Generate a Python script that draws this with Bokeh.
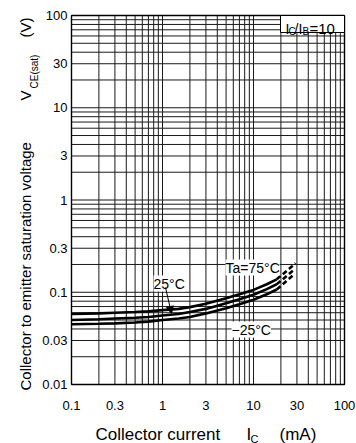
from bokeh.plotting import figure
from bokeh.models import Label, Arrow, NormalHead
from bokeh.core.properties import value
from bokeh.embed import file_html
from bokeh.resources import INLINE

# ---- data ----
ic = [0.1, 0.2, 0.3, 0.5, 0.7, 1, 1.5, 2, 3, 5, 7, 10, 14, 18]
v_75 = [0.058, 0.059, 0.060, 0.061, 0.062, 0.064, 0.066, 0.069, 0.075, 0.086, 0.095, 0.106, 0.122, 0.138]
v_25 = [0.050, 0.051, 0.052, 0.053, 0.054, 0.056, 0.058, 0.061, 0.066, 0.076, 0.084, 0.094, 0.108, 0.122]
v_m25 = [0.045, 0.0455, 0.046, 0.047, 0.048, 0.050, 0.052, 0.054, 0.059, 0.067, 0.074, 0.083, 0.095, 0.107]
ic_ext_75 = [18, 29]
v_ext_75 = [0.138, 0.206]
ic_ext_25 = [18, 28]
v_ext_25 = [0.122, 0.176]
ic_ext_m25 = [18, 27]
v_ext_m25 = [0.107, 0.152]

x_ticks = [0.1, 0.3, 1, 3, 10, 30, 100]
x_tick_labels = ["0.1", "0.3", "1", "3", "10", "30", "100"]
y_ticks = [0.01, 0.03, 0.1, 0.3, 1, 3, 10, 30, 100]
y_tick_labels = ["0.01", "0.03", "0.1", "0.3", "1", "3", "10", "30", "100"]
x_grid = [m * 10.0 ** e for e in (-1, 0, 1) for m in range(1, 10)] + [100]
y_grid = [m * 10.0 ** e for e in (-2, -1, 0, 1) for m in range(1, 10)] + [100]
X_MIN, X_MAX = 0.1, 100
Y_MIN, Y_MAX = 0.01, 100

FONT = "Liberation Sans"

# canvas and chart-frame geometry (pixels)
W, H = 356, 443
FL, FR, FT, FB = 71, 344, 15, 384
XDEC, YDEC = 3, 4


def px2x(px):
    return 10 ** (-1 + XDEC * (px - FL) / (FR - FL))


def py2y(py):
    return 10 ** (2 - YDEC * (py - FT) / (FB - FT))


p = figure(width=W, height=H, x_axis_type="log", y_axis_type="log",
           x_range=(px2x(0), px2x(W)), y_range=(py2y(H), py2y(0)),
           x_axis_location=None, y_axis_location=None, title=None,
           output_backend="svg", toolbar_location=None,
           min_border=0)
p.background_fill_color = "white"
p.border_fill_color = "white"
p.outline_line_color = None
p.grid.visible = False

# grid
p.segment(x0=x_grid, y0=[Y_MIN] * len(x_grid), x1=x_grid, y1=[Y_MAX] * len(x_grid),
          line_color="#1a1a1a", line_width=1)
p.segment(x0=[X_MIN] * len(y_grid), y0=y_grid, x1=[X_MAX] * len(y_grid), y1=y_grid,
          line_color="#1a1a1a", line_width=1)
# chart frame
p.quad(left=[X_MIN], right=[X_MAX], bottom=[Y_MIN], top=[Y_MAX],
       fill_color=None, line_color="black", line_width=1.4)

# tick labels
p.text(x=x_ticks, y=[py2y(405)] * len(x_ticks), text=x_tick_labels,
       text_font=value(FONT), text_font_size="13px", text_color="black",
       text_align="center", text_baseline="alphabetic")
p.text(x=[px2x(67)] * len(y_ticks), y=y_ticks, text=y_tick_labels,
       text_font=value(FONT), text_font_size="13px", text_color="black",
       text_align="right", text_baseline="middle")

# curves
for xs, ys in ((ic, v_75), (ic, v_25), (ic, v_m25)):
    p.line(xs, ys, line_color="black", line_width=2.6)
for xs, ys in ((ic_ext_75, v_ext_75), (ic_ext_25, v_ext_25), (ic_ext_m25, v_ext_m25)):
    p.line(xs, ys, line_color="black", line_width=2.6, line_dash="5 3")

# condition box top right
p.quad(left=[px2x(280)], right=[X_MAX], bottom=[py2y(32)], top=[Y_MAX],
       fill_color="white", line_color="black", line_width=1)


def put(text, px, py, size, angle=0.0, bg=False):
    lab = Label(x=px2x(px), y=py2y(py), text=text, text_font=FONT,
                text_font_size=f"{size}px", text_color="black",
                text_align="left", text_baseline="alphabetic", angle=angle)
    if bg:
        lab.background_fill_color = "white"
        lab.background_fill_alpha = 1
    p.add_layout(lab)


# box text  I_C/I_B=10
put("I", 285, 28, 14)
put("C", 288, 31, 10)
put("/I", 294, 28, 14)
put("B", 302, 31, 10)
put("=10", 309, 28, 15)

# curve labels
put("Ta=75\u00b0C", 225, 267, 14, bg=True)
put("25\u00b0C", 153, 283, 14, bg=True)
put("\u221225\u00b0C", 231, 329, 14, bg=True)

p.add_layout(Arrow(end=NormalHead(size=7, fill_color="black", line_color="black"),
                   x_start=px2x(165), y_start=py2y(287), x_end=px2x(171), y_end=py2y(313),
                   line_color="black", line_width=1))

# axis titles
ROT = 3.141592653589793 / 2
put("Collector to emitter saturation voltage", 25, 390, 15, angle=ROT)
put("V", 25, 100, 15, angle=ROT)
put("CE(sat)", 34, 88, 10, angle=ROT)
put("(V)", 25, 37, 15, angle=ROT)

put("Collector current", 95, 434, 17)
put("I", 246, 434, 17)
put("C", 250, 438, 11)
put("(mA)", 279, 434, 17)

open("out.html", "w").write(file_html(p, INLINE))
